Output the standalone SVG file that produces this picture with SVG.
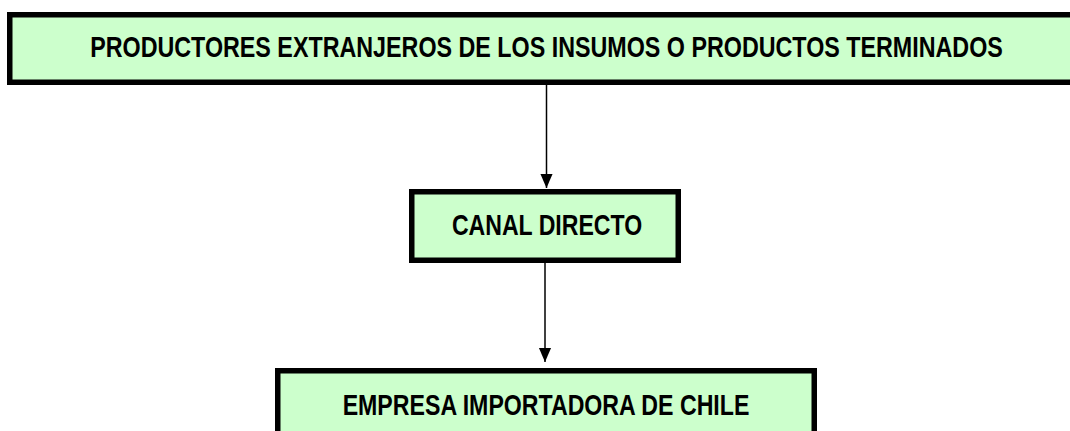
<svg xmlns="http://www.w3.org/2000/svg" width="1070" height="431" viewBox="0 0 1070 431">
<style>
.box{fill:#ccffcc;stroke:#000;stroke-width:5.5}
.lbl{font-family:"Liberation Sans",Arial,sans-serif;font-weight:bold;font-size:29px;fill:#000;text-anchor:middle}
.conn{stroke:#000;stroke-width:1.5;fill:none}
</style>
<defs>
<marker id="arr" markerUnits="userSpaceOnUse" markerWidth="14" markerHeight="16" refX="15" refY="6.5" orient="auto" viewBox="0 0 15 13">
<path d="M0,0 L15,6.5 L0,13 Z" fill="#000"/>
</marker>
</defs>
<rect width="1070" height="431" fill="#fff"/>
<g id="connectors">
<line class="conn" x1="546.5" y1="85" x2="546.5" y2="188" marker-end="url(#arr)"/>
<line class="conn" x1="545" y1="263" x2="545" y2="362" marker-end="url(#arr)"/>
</g>
<g id="productores">
<rect class="box" x="9.75" y="14.75" width="1070" height="67.5"/>
<text class="lbl" transform="translate(546.5,57) scale(0.82,1)" x="0" y="0" textLength="1113" lengthAdjust="spacingAndGlyphs">PRODUCTORES EXTRANJEROS DE LOS INSUMOS O PRODUCTOS TERMINADOS</text>
</g>
<g id="canal">
<rect class="box" x="411.75" y="191.75" width="266.5" height="68.5"/>
<text class="lbl" transform="translate(547,234.5) scale(0.82,1)" x="0" y="0" textLength="232" lengthAdjust="spacingAndGlyphs">CANAL DIRECTO</text>
</g>
<g id="empresa">
<rect class="box" x="277.75" y="370.75" width="536.5" height="80"/>
<text class="lbl" transform="translate(546,414.5) scale(0.82,1)" x="0" y="0" textLength="496" lengthAdjust="spacingAndGlyphs">EMPRESA IMPORTADORA DE CHILE</text>
</g>
</svg>
